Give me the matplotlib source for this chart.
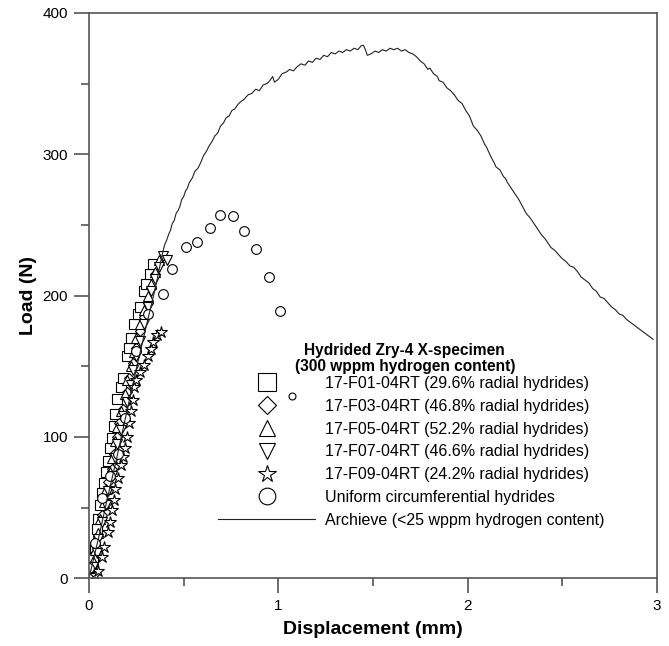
import numpy as np
import matplotlib.pyplot as plt

plt.rcParams['font.family'] = ['Liberation Sans', 'DejaVu Sans']

# F01 (squares)
sq_x = [0.00, 0.01, 0.02, 0.03, 0.04, 0.05, 0.06, 0.07, 0.08, 0.09, 0.10, 0.11, 0.12, 0.13,
        0.14, 0.15, 0.17, 0.18, 0.20, 0.21, 0.22, 0.24, 0.26, 0.27, 0.29, 0.30, 0.32, 0.34]
sq_y = [0, 8, 14, 22, 35, 42, 52, 60, 67, 75, 83, 92, 99, 108,
        116, 127, 135, 142, 157, 163, 170, 180, 187, 192, 203, 208, 215, 222]
# F03 (diamonds)
di_x = [0.00, 0.02, 0.04, 0.05, 0.07, 0.08, 0.10, 0.12, 0.13, 0.15, 0.16, 0.18, 0.20, 0.21,
        0.23, 0.25, 0.27, 0.29, 0.31, 0.33, 0.35]
di_y = [0, 10, 22, 30, 45, 55, 68, 77, 88, 100, 110, 120, 132, 142,
        152, 163, 175, 185, 195, 205, 215]
# F05 (triangles up)
tu_x = [0.00, 0.02, 0.03, 0.05, 0.06, 0.08, 0.09, 0.11, 0.12, 0.14, 0.15, 0.17, 0.19, 0.20,
        0.22, 0.24, 0.25, 0.27, 0.29, 0.31, 0.33, 0.35, 0.37]
tu_y = [2, 12, 20, 32, 42, 54, 63, 75, 85, 97, 107, 118, 130, 140,
        150, 160, 170, 180, 190, 200, 208, 217, 225]
# F07 (triangles down)
td_x = [0.00, 0.02, 0.04, 0.05, 0.07, 0.09, 0.10, 0.12, 0.14, 0.15, 0.17, 0.18, 0.20, 0.22,
        0.23, 0.25, 0.27, 0.29, 0.31, 0.33, 0.35, 0.37, 0.39, 0.41]
td_y = [0, 8, 18, 28, 40, 52, 62, 72, 85, 95, 105, 115, 125, 137,
        147, 157, 168, 180, 192, 203, 212, 220, 228, 225]
# F09 (stars)
st_x = [0.03, 0.05, 0.07, 0.08, 0.10, 0.11, 0.12, 0.13, 0.14, 0.155, 0.17, 0.18, 0.19,
        0.20, 0.21, 0.22, 0.23, 0.24, 0.25, 0.27, 0.29, 0.31, 0.33, 0.34, 0.36, 0.38]
st_y = [2, 5, 15, 22, 33, 40, 48, 55, 63, 71, 80, 86, 92,
        100, 110, 118, 126, 135, 140, 146, 151, 157, 162, 167, 172, 174]
# uniform circumferential hydrides (circles)
ci_x = [0.00, 0.03, 0.07, 0.11, 0.155, 0.19, 0.25, 0.31, 0.39, 0.44, 0.51, 0.57, 0.64,
        0.69, 0.76, 0.82, 0.88, 0.95, 1.01, 1.07]
ci_y = [7, 25, 57, 72, 88, 113, 161, 187, 201, 219, 234, 238, 248,
        257, 256, 246, 233, 213, 189, 129]
# archive (<25 wppm) curve
ar_x = [0.00, 0.05, 0.10, 0.15, 0.20, 0.25, 0.30, 0.35, 0.39, 0.40, 0.41, 0.42, 0.43, 0.44,
        0.45, 0.46, 0.47, 0.48, 0.49, 0.50, 0.51, 0.52, 0.53, 0.545, 0.56, 0.575, 0.59, 0.605,
        0.62, 0.635, 0.65, 0.665, 0.68, 0.695, 0.71, 0.725, 0.74, 0.755, 0.77, 0.785, 0.80,
        0.82, 0.84, 0.86, 0.88, 0.90, 0.92, 0.94, 0.955, 0.97, 0.98, 1.00, 1.02, 1.04, 1.06,
        1.08, 1.10, 1.12, 1.14, 1.16, 1.18, 1.20, 1.22, 1.24, 1.26, 1.28, 1.30, 1.32, 1.34,
        1.36, 1.38, 1.40, 1.42, 1.44, 1.45, 1.46, 1.47, 1.49, 1.51, 1.53, 1.55, 1.57, 1.59,
        1.61, 1.63, 1.65, 1.67, 1.69, 1.71, 1.73, 1.75, 1.77, 1.79, 1.80, 1.82, 1.84, 1.85,
        1.87, 1.89, 1.91, 1.93, 1.95, 1.97, 1.99, 2.01, 2.03, 2.05, 2.07, 2.09, 2.10, 2.12,
        2.14, 2.15, 2.17, 2.19, 2.20, 2.21, 2.23, 2.25, 2.27, 2.29, 2.31, 2.33, 2.35, 2.37,
        2.39, 2.41, 2.44, 2.46, 2.48, 2.50, 2.52, 2.54, 2.56, 2.58, 2.60, 2.62, 2.64, 2.66,
        2.68, 2.70, 2.72, 2.74, 2.76, 2.78, 2.80, 2.82, 2.84, 2.86, 2.88, 2.90, 2.92, 2.94,
        2.96, 2.98]
ar_y = [0, 28, 58, 87, 118, 148, 177, 205, 231, 236, 239, 243, 246, 251,
        253, 258, 260, 263, 268, 270, 274, 276, 280, 283, 288, 290, 294, 299,
        302, 306, 309, 313, 315, 320, 322, 326, 327, 331, 332, 335, 337,
        339, 342, 343, 346, 345, 349, 350, 352, 355, 351, 353, 357, 358, 360,
        359, 362, 364, 363, 366, 365, 368, 367, 370, 369, 372, 371, 373, 372,
        374, 373, 375, 374, 377, 377, 374, 370, 371, 373, 372, 374, 373, 375,
        374, 375, 373, 374, 372, 371, 369, 366, 364, 360, 361, 357, 355, 352,
        351, 347, 345, 342, 338, 336, 331, 327, 320, 317, 313, 307, 305, 299,
        294, 291, 289, 284, 283, 280, 276, 272, 268, 263, 258, 255, 251, 247,
        243, 240, 234, 232, 229, 226, 224, 221, 220, 217, 213, 211, 209, 205,
        203, 199, 198, 195, 192, 190, 187, 186, 183, 181, 179, 177, 175, 173,
        171, 169]

labels = ['17-F01-04RT (29.6% radial hydrides)',
          '17-F03-04RT (46.8% radial hydrides)',
          '17-F05-04RT (52.2% radial hydrides)',
          '17-F07-04RT (46.6% radial hydrides)',
          '17-F09-04RT (24.2% radial hydrides)',
          'Uniform circumferential hydrides',
          'Archieve (<25 wppm hydrogen content)']
legend_title = 'Hydrided Zry-4 X-specimen\n(300 wppm hydrogen content)'

fig = plt.figure(figsize=(6.69, 6.46), dpi=100)
ax = fig.add_axes([0.133, 0.105, 0.849, 0.875])

mk = dict(linestyle='none', mfc='white', mec='black', mew=0.8, ms=7)
h1, = ax.plot(sq_x, sq_y, marker='s', label=labels[0], **mk)
h2, = ax.plot(di_x, di_y, marker='D', label=labels[1], **dict(mk, ms=5.5))
h3, = ax.plot(tu_x, tu_y, marker='^', label=labels[2], **mk)
h4, = ax.plot(td_x, td_y, marker='v', label=labels[3], **mk)
h5, = ax.plot(st_x, st_y, marker='*', label=labels[4], **dict(mk, ms=9))
h6, = ax.plot(ci_x[:-1], ci_y[:-1], marker='o', label=labels[5], **mk)
ax.plot(ci_x[-1:], ci_y[-1:], marker='o', **dict(mk, ms=5))
h7, = ax.plot(ar_x, ar_y, color='#222222', lw=0.8, label=labels[6])

ax.set_xlim(0, 3)
ax.set_ylim(0, 400)
ax.set_xticks([0, 1, 2, 3])
ax.set_xticks([0.5, 1.5, 2.5], minor=True)
ax.set_yticks([0, 100, 200, 300, 400])
ax.set_yticks([50, 150, 250, 350], minor=True)
ax.tick_params(which='major', direction='out', length=11, width=1.2, color='#555555',
               labelsize=11, pad=4)
ax.tick_params(which='minor', direction='out', length=6, width=1.2, color='#555555')
for s in ax.spines.values():
    s.set_color('#555555')
    s.set_linewidth(1.2)

ax.set_xlabel('Displacement (mm)', fontsize=14, fontweight='bold', labelpad=6)
ax.set_ylabel('Load (N)', fontsize=14, fontweight='bold', labelpad=4)

leg = ax.legend(handles=[h1, h2, h3, h4, h5, h6, h7], loc='upper left',
                bbox_to_anchor=(0.213, 0.372), frameon=False, fontsize=11.5,
                handlelength=6.1, handletextpad=0.6, labelspacing=0.49,
                borderpad=0)
for h, s in zip(leg.legend_handles, [13, 9.5, 12, 12, 13, 12]):
    h.set_markersize(s)
ax.text(0.556, 0.389, legend_title, transform=ax.transAxes, ha='center', va='center',
        fontsize=11.2, fontweight='bold', linespacing=1.05)

plt.savefig('out.png', dpi=100)
